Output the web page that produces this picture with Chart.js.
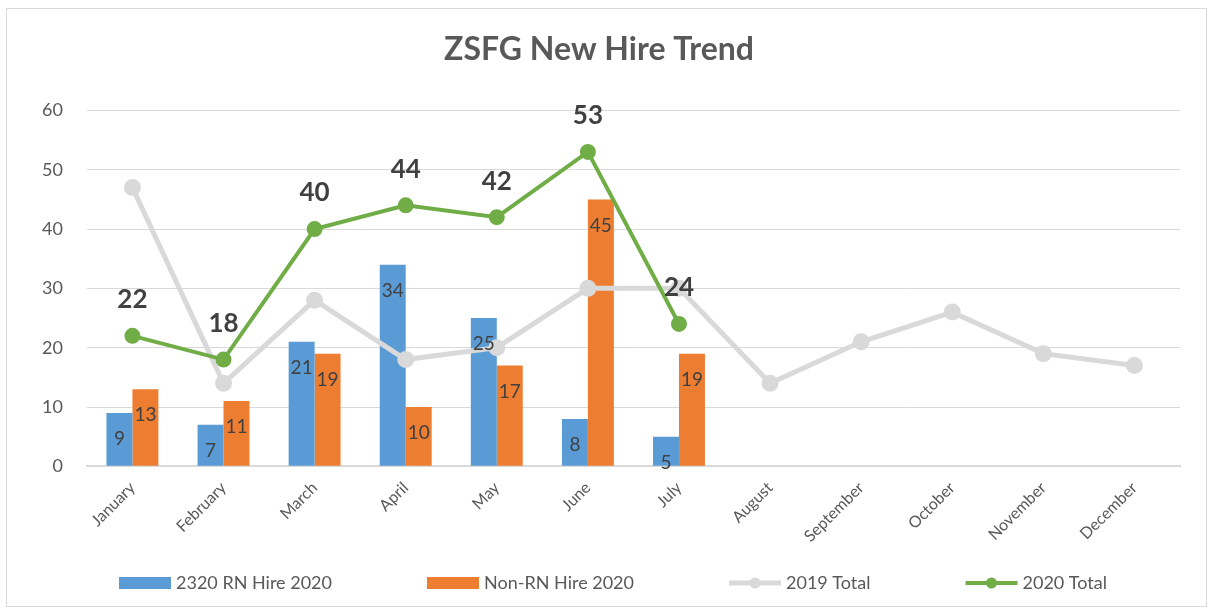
<!DOCTYPE html>
<html>
<head>
<meta charset="utf-8">
<script src="https://cdn.jsdelivr.net/npm/chart.js@4/dist/chart.umd.min.js"></script>
<style>
  html, body { margin: 0; padding: 0; background: #fff; }
  #wrap { position: absolute; left: 0; top: 0; width: 1214px; height: 613px; }
  #frame { position: absolute; left: 6px; top: 8px; width: 1199px; height: 597px;
           border: 1px solid #d9d9d9; pointer-events: none; }
</style>
</head>
<body>
<div id="wrap"><canvas id="chart"></canvas></div>
<div id="frame"></div>
<script>
/* ── Data ─────────────────────────────────────────────────── */

const months = ['January', 'February', 'March', 'April', 'May', 'June',
                'July', 'August', 'September', 'October', 'November', 'December'];
const rnHire2020    = [9, 7, 21, 34, 25, 8, 5];
const nonRnHire2020 = [13, 11, 19, 10, 17, 45, 19];
const total2019     = [47, 14, 28, 18, 20, 30, 30, 14, 21, 26, 19, 17];
const total2020     = [22, 18, 40, 44, 42, 53, 24];

const FONT = 'Lato, "Open Sans", sans-serif';
const TEXT = '#595959';

/* ── Data labels (Excel-style) ────────────────────────────── */

const valueLabels = {
  id: 'valueLabels',
  afterDatasetsDraw(chart) {
    const ctx = chart.ctx;
    ctx.save();
    ctx.textAlign = 'center';
    ctx.textBaseline = 'middle';
    ctx.fillStyle = '#404040';
    chart.data.datasets.forEach((ds, i) => {
      if (!ds.showLabels) return;
      const meta = chart.getDatasetMeta(i);
      meta.data.forEach((el, j) => {
        const v = ds.data[j];
        if (v == null) return;
        if (ds.type === 'line') {
          ctx.font = 'bold 26px ' + FONT;
          ctx.fillText(String(v), el.x, el.y - 36);
        } else {
          ctx.font = '19px ' + FONT;
          ctx.fillText(String(v), el.x, el.y + 26);
        }
      });
    });
    ctx.restore();
  }
};

/* ── Legend (Excel spacing: wide gaps, line series with dot) ─ */

const wideLegend = {
  id: 'wideLegend',
  afterDraw(chart) {
    const ctx = chart.ctx;
    const order = [2, 3, 1, 0];
    const boxW = 52, boxH = 12, textGap = 5, itemGap = 95;
    ctx.save();
    ctx.font = '18px ' + FONT;
    ctx.textBaseline = 'middle';
    ctx.textAlign = 'left';
    const widths = order.map((i) => boxW + textGap + ctx.measureText(chart.data.datasets[i].label).width);
    const total = widths.reduce((a, b) => a + b, 0) + itemGap * (order.length - 1);
    let x = (chart.width - total) / 2 + 6;
    const y = chart.height - 30;
    order.forEach((i, k) => {
      const ds = chart.data.datasets[i];
      if (ds.type === 'line') {
        ctx.strokeStyle = ds.borderColor;
        ctx.lineWidth = ds.borderWidth;
        ctx.beginPath();
        ctx.moveTo(x, y);
        ctx.lineTo(x + boxW, y);
        ctx.stroke();
        ctx.fillStyle = ds.borderColor;
        ctx.beginPath();
        ctx.arc(x + boxW / 2, y, 5.5, 0, Math.PI * 2);
        ctx.fill();
      } else {
        ctx.fillStyle = ds.backgroundColor;
        ctx.fillRect(x, y - boxH / 2, boxW, boxH);
      }
      ctx.fillStyle = TEXT;
      ctx.fillText(ds.label, x + boxW + textGap, y);
      x += widths[k] + itemGap;
    });
    ctx.restore();
  }
};

/* ── Chart ────────────────────────────────────────────────── */

new Chart(document.getElementById('chart'), {
  data: {
    labels: months,
    datasets: [
      {
        type: 'line',
        label: '2020 Total',
        data: total2020,
        borderColor: '#70ad47',
        backgroundColor: '#70ad47',
        borderWidth: 4,
        pointRadius: 6,
        pointHoverRadius: 6,
        tension: 0,
        order: 0,
        showLabels: true,
      },
      {
        type: 'line',
        label: '2019 Total',
        data: total2019,
        borderColor: '#d9d9d9',
        backgroundColor: '#d9d9d9',
        borderWidth: 5,
        pointRadius: 6,
        pointHoverRadius: 6,
        tension: 0,
        order: 1,
      },
      {
        type: 'bar',
        label: '2320 RN Hire 2020',
        data: rnHire2020,
        backgroundColor: '#5b9bd5',
        categoryPercentage: 0.57,
        barPercentage: 1.0,
        order: 2,
        showLabels: true,
      },
      {
        type: 'bar',
        label: 'Non-RN Hire 2020',
        data: nonRnHire2020,
        backgroundColor: '#ed7d31',
        categoryPercentage: 0.57,
        barPercentage: 1.0,
        order: 2,
        showLabels: true,
      },
    ],
  },
  options: {
    responsive: true,
    maintainAspectRatio: false,
    animation: false,
    layout: { padding: { left: 18, right: 34, top: 30, bottom: 63 } },
    plugins: {
      title: {
        display: true,
        text: 'ZSFG New Hire Trend',
        color: TEXT,
        font: { family: FONT, size: 32, weight: 'bold' },
        padding: { top: 0, bottom: 42 },
      },
      legend: { display: false },
      tooltip: { enabled: false },
    },
    scales: {
      x: {
        grid: { display: false },
        border: { color: '#d9d9d9', width: 2 },
        ticks: {
          color: TEXT,
          font: { family: FONT, size: 16 },
          minRotation: 45,
          maxRotation: 45,
          padding: 4,
        },
      },
      y: {
        min: 0,
        max: 60,
        grid: { color: '#d9d9d9', lineWidth: 1, drawTicks: false },
        border: { display: false },
        ticks: {
          stepSize: 10,
          color: TEXT,
          font: { family: FONT, size: 18 },
          padding: 24,
        },
      },
    },
  },
  plugins: [valueLabels, wideLegend],
});
</script>
</body>
</html>
